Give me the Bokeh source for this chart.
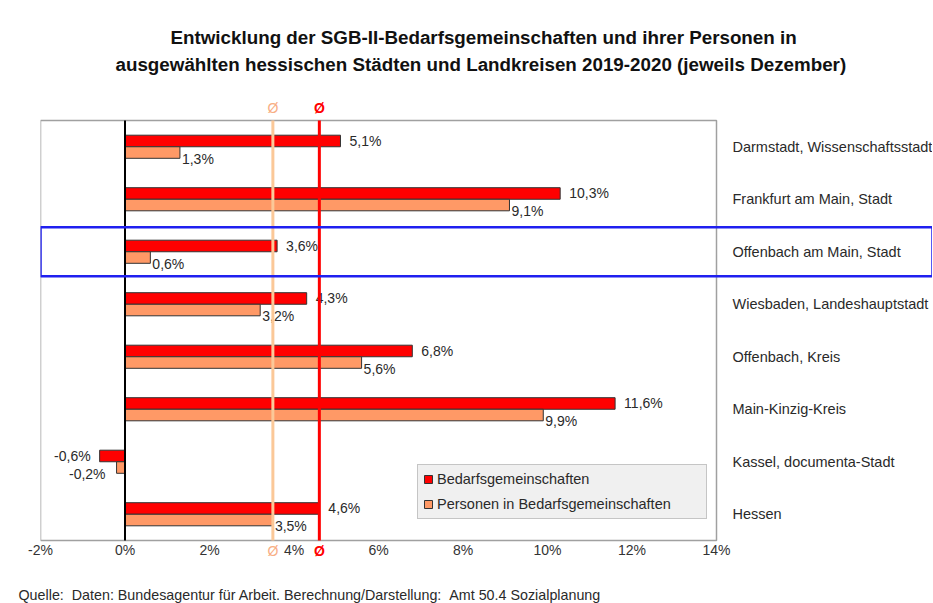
from bokeh.plotting import figure
from bokeh.models import (Range1d, BoxAnnotation, Legend, LegendItem, Title,
                          PrintfTickFormatter, ColumnDataSource, FixedTicker)
from bokeh.embed import file_html
from bokeh.resources import INLINE
from bokeh.core.properties import value

# ---- data ----
regions = ["Darmstadt, Wissenschaftsstadt", "Frankfurt am Main, Stadt",
           "Offenbach am Main, Stadt", "Wiesbaden, Landeshauptstadt",
           "Offenbach, Kreis", "Main-Kinzig-Kreis", "Kassel, documenta-Stadt", "Hessen"]
bg = [5.1, 10.3, 3.6, 4.3, 6.8, 11.6, -0.6, 4.6]      # Bedarfsgemeinschaften
pers = [1.3, 9.1, 0.6, 3.2, 5.6, 9.9, -0.2, 3.5]      # Personen in BG
avg_bg = 4.6
avg_pers = 3.5
highlight = "Offenbach am Main, Stadt"
x_ticks = [-2, 0, 2, 4, 6, 8, 10, 12, 14]

series_names = ["Bedarfsgemeinschaften", "Personen in Bedarfsgemeinschaften"]
title_lines = ["Entwicklung der SGB-II-Bedarfsgemeinschaften und ihrer Personen in",
               "ausgewählten hessischen Städten und Landkreisen 2019-2020 (jeweils Dezember)"]
source_text = "Quelle:\u00a0\u00a0Daten: Bundesagentur für Arbeit. Berechnung/Darstellung:\u00a0\u00a0Amt 50.4 Sozialplanung"

RED = "#FF0000"
ORANGE = "#FF9966"
PEACH = "#FBC898"
PEACH_TXT = "#F8AE84"
TXT = "#2A2A2A"
FONT = "Liberation Sans"

# ---- layout constants (pixels / axis extents) ----
X_MIN, X_MAX = x_ticks[0], x_ticks[-1]
n = len(regions)
PX_PER_ROW = 52.5
PX_PER_PCT = 42.25
W, H = 932, 603
LEFT, TOP = 40, 99
pad_top_px, pad_bot_px = 21, 16
right_px = W - LEFT - (X_MAX - X_MIN) * PX_PER_PCT

def fmt(v):
    return ("%.1f%%" % v).replace(".", ",")

rows = [n - 1 - i + 0.5 for i in range(n)]
src = ColumnDataSource(dict(
    region=regions, row=rows, bg=bg, pers=pers,
    row_bg=[r + 0.11 for r in rows], row_pers=[r - 0.11 for r in rows],
    bg_lbl=[fmt(v) for v in bg], pers_lbl=[fmt(v) for v in pers],
    bg_align=["left" if v >= 0 else "right" for v in bg],
    pers_align=["left" if v >= 0 else "right" for v in pers],
    bg_dx=[9 if v >= 0 else -9 for v in bg],
    pers_dx=[2 if v >= 0 else -11 for v in pers],
    lab_x=[X_MAX] * n,
))

x_range = Range1d(X_MIN, X_MAX + right_px / PX_PER_PCT)
y_range = Range1d(-pad_bot_px / PX_PER_ROW, n + pad_top_px / PX_PER_ROW)
frame_h = (n + (pad_top_px + pad_bot_px) / PX_PER_ROW) * PX_PER_ROW

p = figure(width=W, height=H, x_range=x_range, y_range=y_range,
           output_backend="svg", toolbar_location=None, y_axis_location=None,
           min_border_left=LEFT, min_border_right=0, min_border_top=TOP,
           min_border_bottom=int(round(H - TOP - frame_h)))
p.background_fill_color = "white"
p.border_fill_color = "white"
p.outline_line_color = None
p.xgrid.visible = False
p.ygrid.visible = False

# plot box
p.quad(left=[X_MIN], right=[X_MAX], bottom=[0], top=[n], fill_color=None,
       line_color="#A0A0A0", line_width=1.5)

BH = 0.22
r1 = p.hbar(y="row_bg", left=0, right="bg", height=BH,
            fill_color=RED, line_color="#333333", line_width=1, source=src)
r2 = p.hbar(y="row_pers", left=0, right="pers", height=BH,
            fill_color=ORANGE, line_color="#333333", line_width=1, source=src)

p.text(x="bg", y="row_bg", text="bg_lbl", x_offset="bg_dx",
       text_align="bg_align", text_baseline="middle",
       text_font=value(FONT), text_font_size="14px", text_color=TXT, source=src)
p.text(x="pers", y="row_pers", text="pers_lbl", x_offset="pers_dx",
       y_offset=6, text_align="pers_align", text_baseline="middle",
       text_font=value(FONT), text_font_size="14px", text_color=TXT, source=src)

# category labels right of the plot box
p.text(x="lab_x", y="row", text="region", x_offset=16, text_align="left",
       text_baseline="middle", text_font=value(FONT), text_font_size="14.5px",
       text_color=TXT, source=src)

# zero line and average lines
p.segment(x0=[0], x1=[0], y0=[0], y1=[n], line_color="black", line_width=2)
p.segment(x0=[avg_pers], x1=[avg_pers], y0=[0], y1=[n], line_color=PEACH, line_width=3)
p.segment(x0=[avg_bg], x1=[avg_bg], y0=[0], y1=[n], line_color=RED, line_width=3)

# Ø markers above and below the plot box
for xv, col, style in [(avg_pers, PEACH_TXT, "normal"), (avg_bg, RED, "bold")]:
    p.text(x=[xv, xv], y=[n, 0], y_offset=[-13, 10], text=["Ø", "Ø"],
           text_align="center", text_baseline="middle", text_color=col,
           text_font=value(FONT), text_font_style=style, text_font_size="14px")

hi = rows[regions.index(highlight)]
p.add_layout(BoxAnnotation(left=X_MIN, bottom=hi - 0.467, top=hi + 0.467,
                           fill_alpha=0, line_color="#2020F0", line_alpha=1, line_width=2.5))

legend = Legend(items=[LegendItem(label=series_names[0], renderers=[r1]),
                       LegendItem(label=series_names[1], renderers=[r2])],
                location=(377, 37))
legend.border_line_color = "#9A9A9A"
legend.border_line_width = 1
legend.background_fill_color = "#F0F0F0"
legend.background_fill_alpha = 1
legend.label_text_font = FONT
legend.label_text_font_size = "14.5px"
legend.label_text_color = TXT
legend.glyph_width = 10
legend.glyph_height = 10
legend.label_standoff = 4
legend.label_height = 18
legend.label_width = 264
legend.spacing = 7
legend.padding = 5
legend.margin = 0
p.add_layout(legend)

p.xaxis.ticker = FixedTicker(ticks=x_ticks)
p.xaxis.formatter = PrintfTickFormatter(format="%d%%")
p.xaxis.axis_line_color = None
p.xaxis.major_tick_line_color = None
p.xaxis.minor_tick_line_color = None
p.xaxis.major_label_standoff = -21
p.xaxis.major_label_text_font = FONT
p.xaxis.major_label_text_font_size = "14px"
p.xaxis.major_label_text_color = "#333333"

# title: spacer nearest the plot, then line 2, then line 1
p.add_layout(Title(text=" ", align="left", standoff=22, text_font=FONT,
                   text_font_size="1px"), "above")
p.add_layout(Title(text=title_lines[1], align="left", offset=75, standoff=0,
                   text_font=FONT, text_font_style="bold", text_font_size="18.8px",
                   text_color="#111111"), "above")
p.add_layout(Title(text=title_lines[0], align="left", offset=130, standoff=8,
                   text_font=FONT, text_font_style="bold", text_font_size="18.8px",
                   text_color="#111111"), "above")
# source line below the axis labels
p.add_layout(Title(text=" ", align="left", standoff=21, text_font=FONT,
                   text_font_size="1px"), "below")
p.add_layout(Title(text=source_text, align="left", offset=-22, standoff=0,
                   text_font=FONT, text_font_style="normal", text_font_size="14.3px",
                   text_color=TXT), "below")

open("out.html", "w").write(file_html(p, INLINE))
